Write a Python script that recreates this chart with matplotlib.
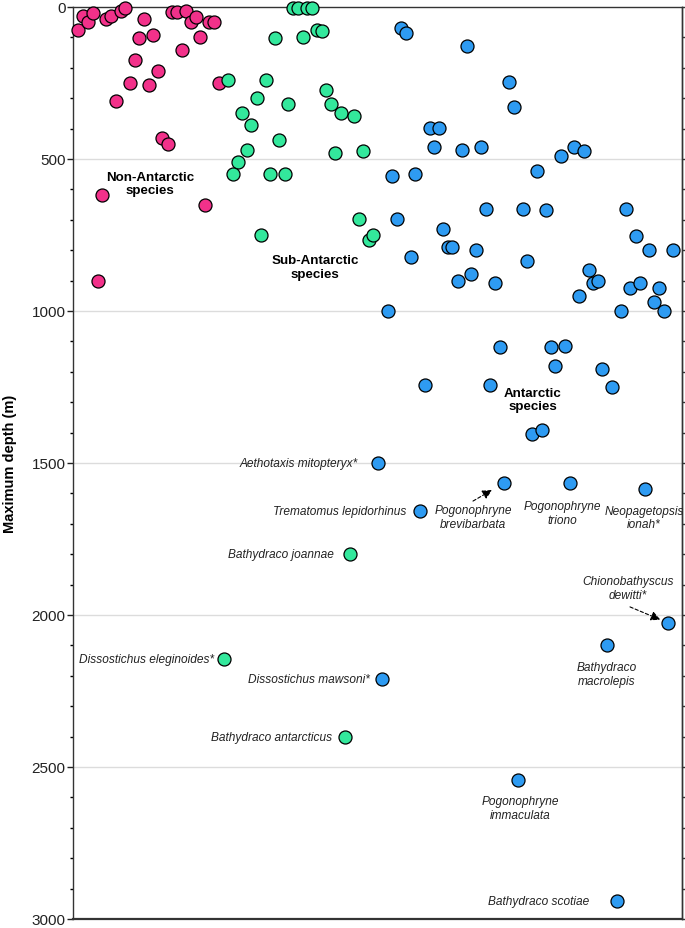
import matplotlib
matplotlib.use("Agg")
import matplotlib.pyplot as plt
from matplotlib.ticker import MultipleLocator

FONT = ['Liberation Sans Narrow', 'Liberation Sans', 'DejaVu Sans']
plt.rcParams['font.family'] = FONT

# ---------------- data ----------------
# horizontal position (arbitrary layout units) and maximum depth (m)
x_non = [5, 10, 15, 20, 33, 38, 48, 52, 71, 66, 80, 62, 85, 57, 76, 43, 89, 95, 29, 25,
         99, 104, 113, 118, 123, 136, 141, 127, 109, 146, 132]
d_non = [75, 29, 50, 20, 39, 29, 12, 3, 39, 102, 92, 173, 209, 249, 255, 309, 432, 451, 620, 902,
         15, 15, 12, 50, 34, 48, 48, 100, 140, 250, 650]

x_sub = [220, 225, 234, 239, 202, 230, 244, 249, 155, 193, 184, 215, 169, 178, 206, 174, 165, 160,
         197, 212, 253, 258, 268, 281, 262, 290, 286, 188, 296, 300, 277, 151, 272]
d_sub = [4, 4, 4, 4, 101, 99, 76, 80, 239, 239, 299, 319, 350, 389, 439, 469, 510, 548,
         548, 548, 274, 319, 350, 359, 479, 475, 699, 750, 768, 750, 1800, 2145, 2401]

x_ant = [328, 333, 394, 436, 441, 357, 366, 361, 389, 408, 488, 501, 511, 464, 319, 342, 413, 450,
         473, 553, 563, 576, 600, 370, 375, 379, 403, 454, 385, 398, 422, 516, 520, 525, 506, 557,
         567, 586, 581, 548, 591, 324, 338, 315, 427, 478, 492, 482, 529, 539, 417, 352, 459, 469,
         305, 347, 431, 497, 572, 595, 534, 309, 445, 544]
d_ant = [70, 87, 129, 247, 330, 398, 398, 459, 470, 459, 489, 459, 475, 539, 555, 548, 666, 666,
         669, 666, 752, 798, 798, 731, 791, 791, 799, 837, 900, 877, 909, 866, 909, 902, 951, 925,
         909, 925, 971, 999, 999, 699, 822, 1001, 1120, 1120, 1116, 1180, 1191, 1249, 1242, 1242, 1405, 1390,
         1500, 1659, 1566, 1566, 1587, 2026, 2099, 2211, 2543, 2941]

# labelled species: (name, x, depth)
species_labels = [
    ("Aethotaxis mitopteryx*", 305, 1500),
    ("Trematomus lepidorhinus", 347, 1659),
    ("Bathydraco joannae", 277, 1800),
    ("Dissostichus eleginoides*", 151, 2145),
    ("Dissostichus mawsoni*", 309, 2211),
    ("Bathydraco antarcticus", 272, 2401),
    ("Pogonophryne\nbrevibarbata", 431, 1566),
    ("Pogonophryne\ntriono", 497, 1566),
    ("Neopagetopsis\nionah*", 572, 1587),
    ("Chionobathyscus\ndewitti*", 595, 2026),
    ("Bathydraco\nmacrolepis", 534, 2099),
    ("Pogonophryne\nimmaculata", 445, 2543),
    ("Bathydraco scotiae", 544, 2941),
]
# text offsets (pixels) and alignment for each label
label_style = [
    ((-20, 0), 'right'),
    ((-14, 0), 'right'),
    ((-16, 0), 'right'),
    ((-10, 0), 'right'),
    ((-12, 0), 'right'),
    ((-13, 0), 'right'),
    ((-31, -34), 'center'),
    ((-8, -30), 'center'),
    ((-1, -28), 'center'),
    ((-40, 35), 'center'),
    ((0, -29), 'center'),
    ((2, -28), 'center'),
    ((-28, 0), 'right'),
]

group_names = ["Non-Antarctic\nspecies", "Sub-Antarctic\nspecies", "Antarctic\nspecies"]
group_pos = [(77, 580), (242, 855), (460, 1291)]

c_non = '#F2318A'
c_sub = '#33E89C'
c_ant = '#2E9BF2'

# ---------------- figure ----------------
fig = plt.figure(figsize=(6.85, 9.29), dpi=100)
ax = fig.add_axes([73/685, 1 - 920/929, (682 - 73)/685, (920 - 8)/929])

ax.set_xlim(0, 609)
ax.set_ylim(3000, 0)

for xs, ds, c in [(x_non, d_non, c_non), (x_sub, d_sub, c_sub), (x_ant, d_ant, c_ant)]:
    ax.scatter(xs, ds, s=88, c=c, edgecolors='black', linewidths=0.9, zorder=3, clip_on=False)

# grid
ax.set_yticks([0, 500, 1000, 1500, 2000, 2500, 3000])
ax.yaxis.set_minor_locator(MultipleLocator(100))
for g in [500, 1000, 1500, 2000, 2500]:
    ax.axhline(g, color='#dcdcdc', lw=1.0, zorder=0)

ax.set_xticks([])
ax.tick_params(axis='y', which='major', length=4.3, width=1.0, pad=1, labelsize=11,
               colors='#222222')
ax.tick_params(axis='y', which='minor', length=2.5, width=1.0)
for t in ax.get_yticklabels():
    t.set_family(FONT)

# right-hand ticks every 100 m, all the same length
sec = ax.secondary_yaxis('right')
sec.set_yticks(list(range(0, 3001, 100)))
sec.set_yticklabels([])
sec.tick_params(axis='y', length=2.5, width=1.0, colors='#333333')
sec.spines['right'].set_linewidth(1.0)
sec.spines['right'].set_color('#333333')

for s in ['left', 'right', 'top']:
    ax.spines[s].set_linewidth(1.0)
    ax.spines[s].set_color('#333333')
ax.spines['bottom'].set_linewidth(1.6)
ax.spines['bottom'].set_color('#333333')

fig.text(10/685, 1 - 464/929, 'Maximum depth (m)', rotation=90, ha='center', va='center',
         fontsize=10.5, fontweight='bold', family=FONT)

# group labels
for name, (gx, gd) in zip(group_names, group_pos):
    ax.text(gx, gd, name, ha='center', va='center', fontsize=9.6, fontweight='bold',
            family=FONT, linespacing=1.15, zorder=4)

# species labels
for (name, sx, sd), ((dx, dy), ha) in zip(species_labels, label_style):
    ax.annotate(name, xy=(sx, sd), xytext=(dx, dy), textcoords='offset pixels',
                ha=ha, va='center', fontsize=8.6, fontstyle='italic', family=FONT,
                linespacing=1.2, color='#222222', zorder=4)

# dashed arrows for two labels
arrow_specs = [(431, 1566, (-31, -18), 10), (595, 2026, (-38, 16), 6)]
for ax_x, ax_d, off, shr in arrow_specs:
    ax.annotate('', xy=(ax_x, ax_d), xytext=off, textcoords='offset pixels',
                arrowprops=dict(arrowstyle='-|>', color='black', lw=0.8, linestyle=(0, (3, 2)),
                                shrinkA=0, shrinkB=shr, mutation_scale=14))

fig.savefig('out.png', dpi=100)
